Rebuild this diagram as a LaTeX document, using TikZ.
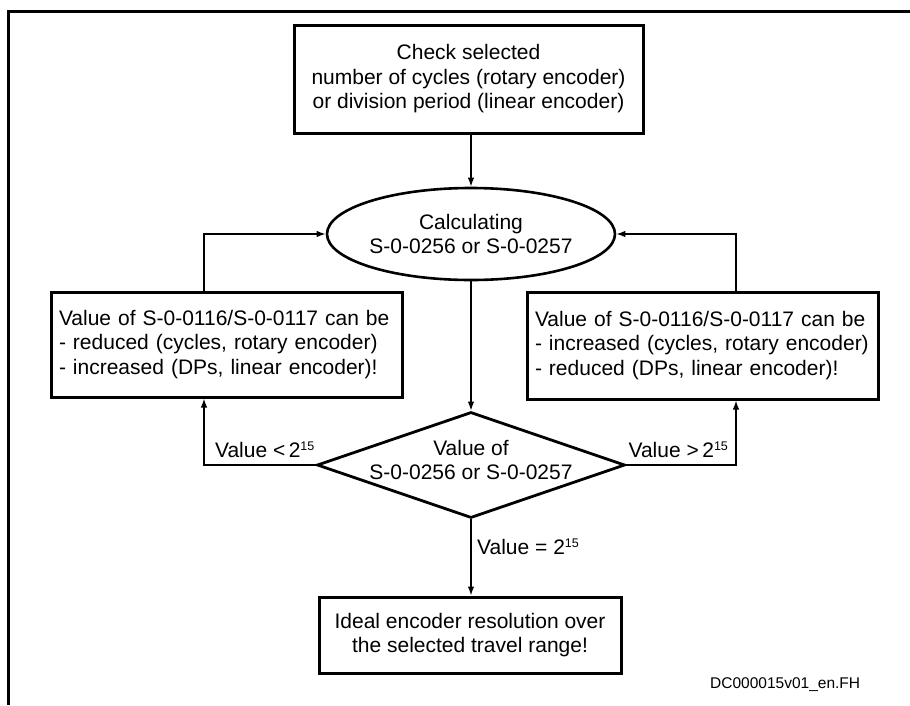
\documentclass[tikz,border=0pt]{standalone}
\usepackage{fontspec}
\setmainfont{Liberation Sans}
\usetikzlibrary{shapes.geometric,arrows.meta}
% raised exponent used in the branch labels
\newcommand\expo[1]{\raisebox{6.5pt}{\fontsize{12.5}{12}\selectfont #1}}
\begin{document}
\begin{tikzpicture}[x=1pt,y=-1pt,
  every node/.style={font=\fontsize{21}{24.5}\selectfont},
  box/.style={draw, line width=3pt, rectangle, inner sep=0pt},
  flow/.style={line width=1.4pt, -{Latex[length=9pt,width=6.5pt]}},
  lbl/.style={inner sep=0pt}]
\useasboundingbox (0,0) rectangle (910,705);

% frame (top and left edges)
\draw[line width=3pt] (8,705) -- (8,11) -- (910,11);

% start box
\node[box, minimum width=349pt, minimum height=108pt, align=center] (check) at (468.5,79)
  {Check selected\\number of cycles (rotary encoder)\\or division period (linear encoder)};

% calculation
\node[ellipse, draw, line width=2.6pt, minimum width=288pt, minimum height=92pt,
      inner sep=0pt, align=center] (calc) at (471,234)
  {Calculating\\S-0-0256 or S-0-0257};

% correction boxes
\node[box, minimum width=351pt, minimum height=105pt, text width=335pt, align=left] (less) at (226.5,344.5)
  {Value of S-0-0116/S-0-0117 can be\\- reduced (cycles, rotary encoder)\\- increased (DPs, linear encoder)!};
\node[box, minimum width=351pt, minimum height=107pt, text width=335pt, align=left] (more) at (702.5,345.5)
  {Value of S-0-0116/S-0-0117 can be\\- increased (cycles, rotary encoder)\\- reduced (DPs, linear encoder)!};

% decision
\node[diamond, draw, line width=2.8pt, minimum width=308pt, minimum height=106pt, inner sep=0pt] (test) at (471,465) {};
\node[lbl, align=center] (testtext) at (471,460) {Value of\\S-0-0256 or S-0-0257};

% result
\node[box, minimum width=302pt, minimum height=76pt, align=center] (ideal) at (470,635)
  {Ideal encoder resolution over\\the selected travel range!};

% vertical lines of the side loops
\coordinate (lv) at (204,0);
\coordinate (rv) at (736,0);

% connectors
\draw[flow] (check.south -| calc.north) -- (calc.north);
\draw[flow] (calc.south) -- (test.north);
\draw[flow] (test.south) -- (test.south |- ideal.north);
\draw[flow] (test.west) -| (lv |- less.south);
\draw[flow] (lv |- less.north) |- (calc.west);
\draw[flow] (test.east) -| (rv |- more.south);
\draw[flow] (rv |- more.north) |- (calc.east);

% branch labels
\node[lbl, anchor=base east] (lowlbl) at ([xshift=-1pt,yshift=8pt]test.west) {Value <\,2\expo{15}};
\node[lbl, anchor=base west] (highlbl) at ([xshift=2pt,yshift=8pt]test.east) {Value >\,2\expo{15}};
\node[lbl, anchor=base west] (eqlbl) at ([xshift=6pt,yshift=-35pt]test.south) {Value = 2\expo{15}};

% drawing code
\node[lbl, anchor=base west, font=\fontsize{15.5}{18}\selectfont] (code) at (710,688) {DC000015v01\_en.FH};
\end{tikzpicture}
\end{document}
